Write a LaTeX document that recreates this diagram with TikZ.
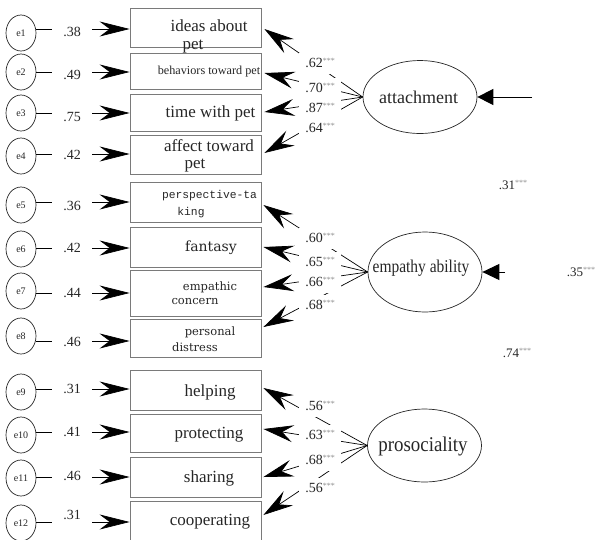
\documentclass[tikz,border=0pt]{standalone}
\usepackage{fontspec}
\setmainfont{Liberation Serif}
\newfontfamily\dvsfont{DejaVu Serif}
\newfontfamily\monofont{Liberation Mono}
\usetikzlibrary{arrows.meta,shapes.geometric,calc}
\definecolor{txt}{HTML}{262626}
\definecolor{boxc}{HTML}{7A7A7A}
\definecolor{starc}{HTML}{8C8C8C}
\newcommand\sigstars{\raisebox{4.5pt}{\fontsize{8}{8}\selectfont\color{starc}***}}
\begin{document}
\begin{tikzpicture}[x=1pt,y=-1pt,
  errell/.style={draw=black!85, ellipse, minimum width=30pt, minimum height=36pt, inner sep=0pt, line width=0.7pt, text=txt, font=\fontsize{10}{10}\selectfont},
  obsbox/.style={draw=boxc, line width=0.8pt, minimum width=131pt, inner sep=0pt},
  boxtext/.style={inner sep=0pt, text=txt, font=\fontsize{17}{17}\selectfont},
  twoline/.style={text height=10pt, text depth=2pt},
  inarrow/.style={line width=0.7pt, -{Stealth[length=30pt,width=15pt,inset=10pt]}},
  loadarrow/.style={line width=0.7pt, -{Stealth[length=30pt,width=17pt,inset=11pt]}},
  errlab/.style={fill=white, inner sep=0pt, minimum width=40pt, minimum height=20pt, text=txt, font=\fontsize{14}{14}\selectfont},
  loadlab/.style={fill=white, inner sep=0pt, minimum width=42pt, minimum height=21pt, text=txt, font=\fontsize{14}{14}\selectfont},
  pathlab/.style={inner sep=0pt, text=txt, font=\fontsize{13}{13}\selectfont},
  latent/.style={draw=black!85, ellipse, minimum width=114pt, line width=0.7pt, inner sep=0pt},
  lattext/.style={inner sep=0pt, text=txt},
  feed/.style={line width=1pt},
]
\useasboundingbox (0,0) rectangle (595,539);

% observed boxes
\foreach \i/\cy/\h in {1/27.5/39,2/71/36,3/112.5/37,4/154.5/39,5/202/40,6/247/40,7/293/46,8/338/38,9/390/40,10/433/38,11/477/40,12/523/44}
  \node[obsbox, minimum height=\h pt] (b\i) at (195.5,\cy) {};

% box texts
\node[boxtext, twoline] (t1a) at (209,27) {ideas about};
\node[boxtext, twoline] (t1b) at (193,45) {pet};
\node[boxtext, font=\fontsize{12.2}{12}\selectfont] (t2) at (209,72) {behaviors toward pet};
\node[boxtext] (t3) at (210.5,113) {time with pet};
\node[boxtext, twoline] (t4a) at (209,147) {affect toward};
\node[boxtext, twoline] (t4b) at (195,164) {pet};
\node[boxtext, font=\monofont\fontsize{11.3}{11}\selectfont] (t5a) at (209.5,196) {perspective-ta};
\node[boxtext, font=\monofont\fontsize{11.3}{11}\selectfont] (t5b) at (191,213) {king};
\node[boxtext, font=\dvsfont\fontsize{14}{14}\selectfont] (t6) at (211,248) {fantasy};
\node[boxtext, font=\dvsfont\fontsize{11.5}{11}\selectfont] (t7a) at (210,287) {empathic};
\node[boxtext, font=\dvsfont\fontsize{11.5}{11}\selectfont] (t7b) at (195,302) {concern};
\node[boxtext, font=\dvsfont\fontsize{11.5}{11}\selectfont] (t8a) at (210,332) {personal};
\node[boxtext, font=\dvsfont\fontsize{11.5}{11}\selectfont] (t8b) at (195,347) {distress};
\node[boxtext] (t9) at (210,392) {helping};
\node[boxtext] (t10) at (209,435) {protecting};
\node[boxtext] (t11) at (209,478) {sharing};
\node[boxtext] (t12) at (210,522) {cooperating};

% error terms
\foreach \i/\ey/\ly/\ay/\v in {1/33/32/29/.38,2/72/75/72/.49,3/113/117/113/.75,4/156/155/154/.42,5/205/206/202/.36,6/249/248/248/.42,7/291/293/293/.44,8/336/342/341/.46,9/392/389/389/.31,10/435/432/432/.41,11/478/476/477/.46,12/523/515/522/.31}{
  \node[errell] (e\i) at (21,\ey) {e\i};
  \draw[inarrow] (e\i.east |- 0,\ay) -- (b\i.west |- 0,\ay);
  \node[errlab] (l\i) at (72,\ly) {\v};
}

% latent variables
\node[latent, minimum height=73pt] (att) at (420,97) {};
\node[lattext, font=\fontsize{18}{18}\selectfont] (attT) at (418.5,97) {attachment};
\node[latent, minimum height=80pt] (emp) at (425,272) {};
\node[lattext, font=\fontsize{18}{18}\selectfont] (empT) at (421,268) {\scalebox{0.86}[1]{empathy ability}};
\node[latent, minimum height=73pt] (pro) at (424.5,445.5) {};
\node[lattext, font=\fontsize{21}{21}\selectfont] (proT) at (423,446) {\scalebox{0.9}[1]{prosociality}};

% loadings
\foreach \i/\ty in {1/29,2/73,3/112,4/153}
  \draw[loadarrow] (att.west) -- ($(b\i.east |- 0,\ty)+(3,0)$);
\foreach \i/\ty in {5/205,6/247,7/287,8/327}
  \draw[loadarrow] (emp.west) -- ($(b\i.east |- 0,\ty)+(2,0)$);
\foreach \i/\ty in {9/388,10/429,11/477,12/515}
  \draw[loadarrow] (pro.west) -- ($(b\i.east |- 0,\ty)+(2,0)$);

\foreach \n/\y/\v in {a1/63/.62,a2/88/.70,a3/108/.87,a4/128/.64,m1/238/.60,m2/262/.65,m3/282/.66,m4/305/.68,p1/406/.56,p2/435/.63,p3/460/.68,p4/488/.56}
  \node[loadlab] (ll\n) at (320,\y) {\v\sigstars};

% disturbance / structural inputs
\coordinate (attin) at (532,97);
\draw[feed, -{Triangle[length=16pt,width=16pt]}] (attin) -- (att.east);
\coordinate (empin) at (505,272);
\draw[feed, -{Triangle[length=17pt,width=16pt]}] (empin) -- (emp.east);

\node[pathlab] (s31) at (513,185) {.31\sigstars};
\node[pathlab] (s35) at (581,272) {.35\sigstars};
\node[pathlab] (s74) at (517,353) {.74\sigstars};
\end{tikzpicture}
\end{document}
